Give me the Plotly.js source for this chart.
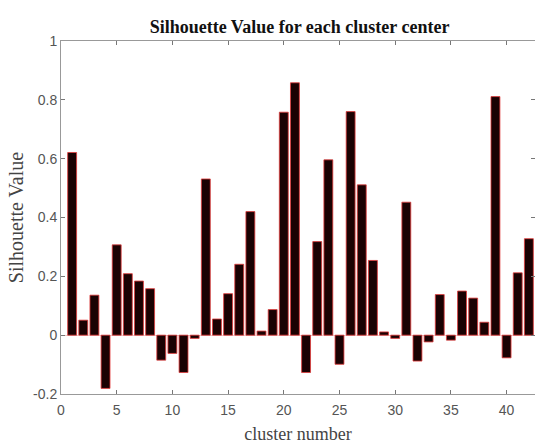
<!DOCTYPE html>
<html>
<head>
<meta charset="utf-8">
<script src="https://cdn.plot.ly/plotly-3.0.1.min.js"></script>
<style>html,body{margin:0;padding:0;background:#fff;}#chart{width:535px;height:444px;}</style>
</head>
<body>
<div id="chart"></div>
<script>
var clusterNumbers = [1,2,3,4,5,6,7,8,9,10,11,12,13,14,15,16,17,18,19,20,21,22,23,24,25,26,27,28,29,30,31,32,33,34,35,36,37,38,39,40,41,42];
var silhouetteValues = [0.621,0.051,0.136,-0.181,0.307,0.209,0.184,0.158,-0.085,-0.062,-0.127,-0.011,0.531,0.055,0.141,0.241,0.420,0.014,0.087,0.758,0.858,-0.127,0.318,0.596,-0.099,0.760,0.511,0.254,0.011,-0.011,0.452,-0.088,-0.023,0.138,-0.017,0.150,0.126,0.044,0.811,-0.077,0.212,0.328];
var xTicks = [0,5,10,15,20,25,30,35,40];
var yTicks = [-0.2,0,0.2,0.4,0.6,0.8,1];
var yTickLabels = ['-0.2','0','0.2','0.4','0.6','0.8','1'];

var trace = {
  type: 'bar',
  x: clusterNumbers,
  y: silhouetteValues,
  width: 0.8,
  marker: {color: '#1a0203', line: {color: '#e23a3a', width: 0.8}},
  hoverinfo: 'x+y'
};

var layout = {
  width: 535, height: 444,
  margin: {l: 61, r: 0, t: 41, b: 50},
  paper_bgcolor: '#fff', plot_bgcolor: '#fff',
  showlegend: false,
  bargap: 0.2,
  title: {text: 'Silhouette Value for each cluster center', x: 0.56, xanchor: 'center', y: 0.94, yanchor: 'middle',
          font: {family: 'Liberation Serif, Times New Roman, serif', size: 18, color: '#111', weight: 'bold'}},
  xaxis: {
    range: [0, 42.55], tickvals: xTicks, ticktext: xTicks.map(String),
    ticks: 'inside', ticklen: 4, tickcolor: '#777', mirror: 'ticks',
    showline: true, linecolor: '#999', linewidth: 1, showgrid: false, zeroline: false,
    ticklabelstandoff: 3,
    tickfont: {family: 'Liberation Sans, Arial, sans-serif', size: 14, color: '#555'},
    title: {text: 'cluster number', standoff: 10, font: {family: 'Liberation Serif, Times New Roman, serif', size: 18, color: '#444'}}
  },
  yaxis: {
    range: [-0.2, 1], tickvals: yTicks, ticktext: yTickLabels,
    ticks: 'inside', ticklen: 4, tickcolor: '#777', mirror: 'ticks',
    showline: true, linecolor: '#999', linewidth: 1, showgrid: false,
    zeroline: true, zerolinecolor: '#f2c4c4', zerolinewidth: 1,
    tickfont: {family: 'Liberation Sans, Arial, sans-serif', size: 14, color: '#555'},
    title: {text: 'Silhouette Value', standoff: 4, font: {family: 'Liberation Serif, Times New Roman, serif', size: 20, color: '#444'}}
  }
};

Plotly.newPlot('chart', [trace], layout, {displayModeBar: false, staticPlot: true});
</script>
</body>
</html>
